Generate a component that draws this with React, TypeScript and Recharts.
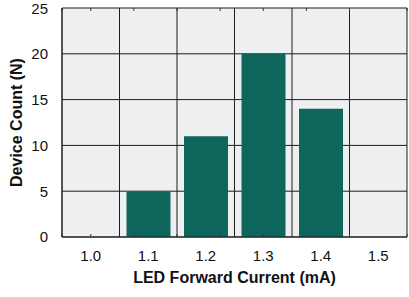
import React from 'react';
import { BarChart, Bar, XAxis, YAxis, CartesianGrid, Label } from 'recharts';

const categories = ['1.0', '1.1', '1.2', '1.3', '1.4', '1.5'];
const numericCategories = [1.0, 1.1, 1.2, 1.3, 1.4, 1.5];
const deviceCounts = [0, 5, 11, 20, 14, 0];
const yTicks = [0, 5, 10, 15, 20, 25];
const yMinorTicks = [0, 1, 2, 3, 4, 5, 6, 7, 8, 9, 10, 11, 12, 13, 14, 15, 16, 17, 18, 19, 20, 21, 22, 23, 24, 25];
const yRightTicks = [0, 2.5, 5, 7.5, 10, 12.5, 15, 17.5, 20, 22.5, 25];
const xMinorTicks = [
  0.95, 0.975, 1.0, 1.025, 1.05, 1.075, 1.1, 1.125, 1.15, 1.175, 1.2, 1.225, 1.25,
  1.275, 1.3, 1.325, 1.35, 1.375, 1.4, 1.425, 1.45, 1.475, 1.5, 1.525, 1.55,
];

const data = categories.map((c, i) => ({ cat: c, x: numericCategories[i], count: deviceCounts[i] }));

const FONT = '"Liberation Sans", Arial, Helvetica, sans-serif';
const BAR = '#0f665c';
const BG = '#eeeff1';
const GRID = '#1c1c1c';

const NoLabel = () => <g />;

export default function App() {
  return (
    <div style={{ position: 'absolute', left: 0, top: 0, width: 409, height: 297, background: '#fff', fontFamily: FONT }}>
      <BarChart
        width={409}
        height={297}
        data={data}
        margin={{ top: 8, right: 2, left: 0, bottom: 0 }}
        barSize={44}
      >
        <CartesianGrid
          fill={BG}
          stroke={GRID}
          strokeWidth={1}
          yAxisId="main"
          xAxisId="main"
          verticalCoordinatesGenerator={({ offset }: any) =>
            Array.from({ length: categories.length + 1 }, (_, i) => offset.left + (i * offset.width) / categories.length)
          }
        />
        <XAxis
          xAxisId="main"
          dataKey="cat"
          height={60}
          axisLine={{ stroke: GRID }}
          tickLine={false}
          tickSize={13}
          tickMargin={0}
          tick={{ fill: '#111', fontSize: 15, fontFamily: FONT }}
        >
          <Label
            value="LED Forward Current (mA)"
            position="insideBottom"
            offset={14}
            style={{ fontSize: 16, fontWeight: 'bold', fill: '#111', fontFamily: FONT }}
          />
        </XAxis>
        <XAxis
          xAxisId="minorTop"
          dataKey="x"
          type="number"
          orientation="top"
          mirror
          height={4}
          domain={[0.95, 1.55]}
          ticks={xMinorTicks}
          allowDataOverflow
          axisLine={false}
          tick={NoLabel}
          tickSize={3}
          tickLine={{ stroke: '#333' }}
        />
        <XAxis
          xAxisId="minorBottom"
          dataKey="x"
          type="number"
          orientation="bottom"
          mirror
          height={4}
          domain={[0.95, 1.55]}
          ticks={xMinorTicks}
          allowDataOverflow
          axisLine={false}
          tick={NoLabel}
          tickSize={3}
          tickLine={{ stroke: '#333' }}
        />
        <YAxis
          yAxisId="main"
          width={62}
          domain={[0, 25]}
          ticks={yTicks}
          axisLine={{ stroke: GRID }}
          tickLine={false}
          tickSize={14}
          tickMargin={0}
          tick={{ fill: '#111', fontSize: 15, fontFamily: FONT }}
        >
          <Label
            value="Device Count (N)"
            angle={-90}
            position="insideLeft"
            offset={16}
            style={{ fontSize: 16, fontWeight: 'bold', fill: '#111', textAnchor: 'middle', fontFamily: FONT }}
          />
        </YAxis>
        <YAxis
          yAxisId="minorLeft"
          orientation="left"
          mirror
          width={4}
          domain={[0, 25]}
          ticks={yMinorTicks}
          axisLine={false}
          tick={NoLabel}
          tickSize={3}
          tickLine={{ stroke: '#333' }}
        />
        <YAxis
          yAxisId="minorRight"
          orientation="right"
          mirror
          width={4}
          domain={[0, 25]}
          ticks={yRightTicks}
          axisLine={false}
          tick={NoLabel}
          tickSize={3}
          tickLine={{ stroke: '#333' }}
        />
        <Bar dataKey="count" xAxisId="main" yAxisId="main" fill={BAR} isAnimationActive={false} />
      </BarChart>
    </div>
  );
}
